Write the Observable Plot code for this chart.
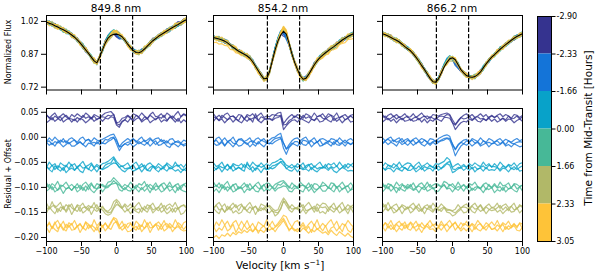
<!DOCTYPE html>
<html><head><meta charset="utf-8">
<script src="https://cdn.jsdelivr.net/npm/d3@7"></script>
<script src="https://cdn.jsdelivr.net/npm/@observablehq/plot@0.6"></script>
<style>
body{margin:0;background:#fff;}
#fig{position:relative;width:598px;height:275px;font-family:"DejaVu Sans",sans-serif;color:#000;overflow:hidden;background:#fff;}
.lbl{position:absolute;white-space:nowrap;line-height:1;}
.lbl sup{font-size:0.7em;line-height:0;vertical-align:0.5em;}
</style></head><body><div id="fig"></div>
<script>
// ---------------- DATA ----------------
const panelTitles = ["849.8 nm", "854.2 nm", "866.2 nm"];
const velocity = [-100,-96,-92,-88,-84,-80,-76,-72,-68,-64,-60,-56,-52,-48,-44,-40,-36,-32,-28,-24,-20,-16,-12,-8,-4,0,4,8,12,16,20,24,28,32,36,40,44,48,52,56,60,64,68,72,76,80,84,88,92,96,100];
const velTicks = [-100, -50, 0, 50, 100];
const fluxTicks = [0.72, 0.87, 1.02];
const residTicks = [0.05, 0.00, -0.05, -0.10, -0.15, -0.20];
const dashedVel = [-23, 23];
const groupOffsets = [0.038, -0.010, -0.060, -0.100, -0.142, -0.178];
const groupColors = ["#35338f", "#1474d8", "#08a2c9", "#47b897", "#b1b868", "#fec338"];
const cbTickLabels = ["-2.90", "-2.33", "-1.66", "0.00", "1.66", "2.33", "3.05"];
const residUnit = 0.0015;          // residual values below are in units of 0.0015
const lineShift = [3, -3, 0];      // spread of the 3 spectra within a group (same units)

// mean (black) normalized flux profiles
const flux8498 = [1.016,1.012,1.007,1.000,0.994,0.988,0.982,0.975,0.967,0.958, 0.948,0.936,0.922,0.906,0.890,0.874,0.857,0.840,0.831,0.858, 0.890,0.922,0.944,0.956,0.961,0.962,0.958,0.950,0.935,0.916, 0.900,0.887,0.878,0.877,0.883,0.894,0.907,0.920,0.932,0.942, 0.952,0.960,0.968,0.976,0.984,0.992,0.999,1.006,1.014,1.022, 1.028];
const flux8542 = [0.946,0.943,0.940,0.935,0.930,0.922,0.912,0.902,0.893,0.884, 0.877,0.870,0.862,0.852,0.836,0.815,0.795,0.775,0.758,0.760, 0.790,0.840,0.890,0.930,0.958,0.975,0.962,0.920,0.872,0.832, 0.800,0.772,0.756,0.760,0.778,0.800,0.822,0.840,0.855,0.866, 0.877,0.887,0.896,0.905,0.915,0.925,0.935,0.943,0.951,0.958, 0.964];
const flux8662 = [0.964,0.959,0.953,0.947,0.940,0.934,0.926,0.916,0.905,0.895, 0.886,0.872,0.856,0.838,0.818,0.800,0.780,0.760,0.745,0.743, 0.758,0.785,0.812,0.833,0.849,0.854,0.845,0.822,0.800,0.785, 0.773,0.767,0.765,0.768,0.777,0.790,0.808,0.826,0.842,0.857, 0.868,0.881,0.893,0.904,0.914,0.924,0.934,0.943,0.951,0.958, 0.964];

// residuals relative to each group's offset; per group: 3 spectra
const resid8498 = [
 [[2,-3,1,4,-2,0,3,-1,-4,2, -1,3,0,-2,4,1,-3,2,0,-2, 1,4,5,6,2,-9,-8,-3,-2,1, -2,3,1,-1,4,0,-3,2,5,-1, 0,3,-2,4,1,-3,2,6,-1,3, 1],
  [-3,0,4,-1,2,5,-2,1,3,-2, 2,-2,3,1,-3,0,4,-1,2,3, -1,3,2,5,4,-6,-9,-2,1,-2, 3,-1,2,4,-2,1,3,-3,0,2, 4,-2,1,-1,5,2,-2,3,-3,1, -2],
  [4,1,-2,3,0,-3,1,4,0,-1, -3,1,-2,4,0,2,-1,3,-2,1, 2,1,4,3,5,-7,-9,-4,-2,3, 0,-2,4,1,-3,2,-1,4,1,-2, 2,0,4,-3,1,3,-1,-4,2,5, 3]],
 [[-2,3,-1,4,0,-3,2,-4,1,3, 0,-3,2,4,-1,1,-2,3,0,-1, 1,3,5,7,8,1,-9,-4,-1,2, -1,2,-3,1,4,-2,0,3,-1,2, 3,-2,0,-4,1,2,-3,-1,-4,0, -2],
  [3,-1,2,-2,4,1,-3,0,3,-2, -2,1,4,0,-3,2,1,-2,4,0, 2,1,4,6,9,5,-3,-2,1,-1, 2,-3,0,4,1,-1,3,-2,2,5, -1,0,3,-2,-4,2,0,-3,1,-2, 0],
  [0,2,-3,1,-1,3,0,2,-2,1, 3,-2,0,-3,2,4,-1,0,-2,2, -1,4,3,6,7,-2,-11,-5,-2,0, 1,4,2,-2,0,3,-2,4,1,-3, 0,4,-1,2,-2,-3,1,0,-2,-3, -1]],
 [[-3,4,-1,2,-5,3,0,-2,4,-1, 2,-4,1,5,-2,0,3,-3,1,-2, 2,3,5,8,11,5,1,-2,0,3, -3,1,4,-2,2,-4,1,3,-1,-3, 2,-1,-4,3,0,-3,4,-2,1,-3, 2],
  [4,0,-3,5,1,-2,3,-4,0,2, -1,3,-2,-4,4,1,-2,2,-3,3, 0,2,4,7,9,8,3,-1,-3,1, 2,-2,0,3,-3,2,-1,-2,4,0, -3,2,1,-2,3,1,-2,0,-4,1, -2],
  [1,-2,3,-3,2,0,-4,3,-2,4, -4,1,3,-1,0,-3,4,-1,2,-2, -2,3,5,6,12,5,0,2,-2,-1, 0,3,-3,-1,1,3,-4,0,2,-2, 1,-3,2,4,-2,-1,2,3,-2,-4, 0]],
 [[3,-4,2,-1,5,-3,0,4,-2,1, -3,2,-5,1,4,-1,3,-4,2,0, 1,-2,4,5,10,6,2,-3,1,-2, 4,-1,-4,2,0,5,-3,1,-2,3, -4,1,3,-2,4,-3,0,2,-5,1, 3],
  [-2,1,4,-3,0,2,-5,1,3,-1, 4,-3,0,3,-2,5,-1,-4,1,3, -3,2,3,7,8,9,0,-2,3,-1, -2,4,1,-3,3,-2,2,-4,4,-1, 2,-3,-1,4,-2,1,-4,3,0,-2, -3],
  [0,4,-3,1,-4,3,2,-2,0,-4, 1,-1,3,-4,2,-3,4,0,-2,3, 2,0,2,4,9,5,3,-1,-3,2, -1,-4,3,0,-3,1,4,-1,-3,2, 1,4,-3,0,2,-1,3,-4,2,4, 0]],
 [[4,-3,6,-2,1,5,-4,2,-1,3, -5,2,0,4,-3,1,-2,5,-4,0, -2,-5,-7,-3,6,9,5,-2,3,-1, 3,-4,1,5,-2,-5,2,0,4,-3, -2,4,-5,1,3,-1,5,-3,0,2, -1],
  [-3,5,0,-4,3,-1,6,-2,4,-5, 2,-1,5,-3,0,4,-5,2,-1,3, 1,-4,-6,-4,3,8,7,3,-2,2, -4,2,-1,-3,4,1,-2,5,-3,1, 5,-2,1,-4,-1,3,-2,4,-5,-3, 2],
  [1,-1,3,4,-5,2,0,-3,5,1, -2,4,-4,1,2,-3,3,0,5,-4, 3,-3,-6,-5,2,10,3,0,4,-3, 1,3,-2,0,-5,3,-1,4,-2,0, -3,1,4,-2,2,-5,1,-1,3,4, 0]],
 [[-4,3,-6,1,5,-2,4,-5,2,-1, 5,-3,1,-6,3,0,-4,6,-2,2, -3,1,-4,3,9,7,-2,4,-5,1, 2,-5,4,0,-3,6,-1,3,-4,0, 3,-2,5,-4,1,-3,6,-1,-5,2, 4],
  [2,-5,3,-1,-4,6,0,-3,5,-2, -1,4,-5,2,-2,5,1,-4,3,-6, 4,-3,2,-1,7,10,3,-2,2,-4, -3,1,-2,5,-4,1,4,-5,2,6, -2,5,-3,0,4,-4,1,3,-1,-3, -2],
  [0,4,-2,6,-3,1,-5,3,-1,4, -4,0,3,-2,6,-3,2,-1,-5,3, -1,5,-2,4,11,5,-3,0,3,-2, 4,-2,0,-4,2,-3,5,-2,-1,3, 1,-4,2,4,-2,0,-3,5,2,-4, 1]]
];
const resid8542 = [
 [[3,-2,1,-3,2,4,-1,0,-3,2, 1,-4,2,0,3,-2,1,4,-2,0, -1,2,1,4,5,-10,-5,-1,2,-2, 2,0,-3,3,1,-2,4,-1,0,3, -2,3,1,-1,4,-3,0,2,-2,1, 2],
  [-1,4,0,2,-3,1,3,-2,2,-1, -3,2,-1,3,-2,9,0,-3,1,3, 2,0,3,4,6,-12,-7,-3,0,1, -2,3,1,-1,-3,2,0,3,-2,-1, 3,0,-2,4,-1,2,-3,1,3,-2, -1],
  [2,0,-3,4,1,-2,2,3,-1,-3, 4,-1,3,-2,0,1,-3,2,0,-2, 0,-2,4,3,4,-9,-8,-3,-1,3, 1,-2,4,0,2,-1,-3,2,4,0, -1,2,4,-3,0,1,3,-2,0,3, 0]],
 [[-3,2,4,-1,3,-2,0,4,-3,1, 2,-2,0,3,-4,1,3,-1,2,-3, 0,3,4,7,9,-4,-12,-6,-1,2, 3,-1,2,4,-2,0,3,-3,1,2, 0,-3,2,1,-2,3,-1,-4,0,2, -1],
  [2,-1,0,3,-2,4,1,-3,2,-2, -1,3,2,-3,1,-2,4,0,-3,2, 2,1,4,6,8,2,-6,-3,2,0, -2,4,0,-1,3,-3,1,4,-2,-1, 3,1,-2,4,0,-1,2,-2,3,0, 2],
  [0,3,-2,2,-4,0,3,-1,-2,4, 3,0,-3,1,2,-1,-2,3,1,-1, -2,2,5,6,7,-8,-16,-7,-3,1, 1,-3,3,2,-1,2,-2,0,3,-3, -2,2,0,-3,3,-2,0,3,-1,-3, 1]],
 [[3,-2,0,4,-3,1,-4,2,0,-1, 2,-3,1,-2,4,0,-2,3,-1,2, -1,3,4,6,9,5,0,-2,1,-3, 2,-1,3,-4,0,2,-3,1,4,-2, -3,2,0,3,-2,4,-1,-3,2,0, 3],
  [-2,1,3,-3,2,-1,4,-2,1,3, 0,-2,10,3,-3,2,1,-4,2,0, 3,1,3,7,10,6,2,-1,-2,2, -3,2,0,1,-2,3,-1,-3,1,3, 2,-1,3,-2,-4,0,3,1,-2,-1, -2],
  [1,-3,2,0,-1,4,-2,3,-3,0, -2,4,0,-3,1,-4,3,0,2,-3, -2,2,3,5,8,7,-2,1,-1,2, 0,3,-2,2,4,-3,2,-2,0,-1, 4,-2,1,-1,2,-3,0,4,-1,3, 0]],
 [[4,-2,3,-4,1,5,-3,0,2,-5, -1,3,-3,2,-4,1,4,-2,0,3, 2,-3,1,3,5,6,2,-4,3,-1, -3,4,0,-2,3,-4,2,1,-3,4, 1,-4,3,2,-3,0,4,-2,-1,3, -2],
  [-3,1,-4,2,4,-2,3,-3,-1,2, 3,-4,1,-1,3,-2,-3,4,-2,1, -1,3,-2,2,3,5,4,-2,-3,2, 2,-1,-3,4,-2,2,-4,0,3,-2, -2,3,0,-3,4,-3,1,3,-4,0, 1],
  [0,3,-1,4,-3,1,-2,4,-4,1, -2,1,4,-3,0,3,-1,-2,4,-3, 3,0,-2,4,3,7,3,1,-2,3, -1,2,3,-1,0,4,-2,-3,1,2, 3,0,-2,4,-1,2,-3,0,2,-4, 3]],
 [[-4,2,5,-1,3,-5,0,4,-2,1, 3,-4,1,5,-2,0,-5,3,1,-3, 1,-3,-6,-5,4,11,6,-3,2,-2, -2,4,-3,1,5,-1,-4,3,0,4, 3,-2,0,4,-4,1,5,-3,2,-1, 2],
  [3,-1,-4,4,-2,2,5,-3,0,-4, -2,5,-1,-3,4,-5,2,0,4,-1, -3,1,-7,-4,2,13,7,1,-2,3, 3,-3,2,-4,1,4,-2,5,-3,-1, -4,3,1,-2,3,-3,0,2,-4,4, -3],
  [1,4,-2,0,-5,3,-2,1,5,-3, 4,0,-3,2,-1,3,-4,1,-2,5, 2,-4,-5,-6,0,10,8,3,-1,0, -1,2,5,-3,-2,0,3,-4,2,1, 2,-4,3,-1,0,4,-3,1,-2,3, 0]],
 [[-5,3,-2,6,-1,4,-4,2,5,-3, 4,-2,5,-4,1,-6,3,0,-3,6, -2,4,-3,1,6,12,10,2,-4,3, 5,-3,2,-5,0,4,-2,6,-4,1, -3,2,6,-2,4,-5,1,-2,5,0, -4],
  [3,-4,1,-2,5,-3,0,6,-5,2, -3,5,-1,3,-4,2,-6,1,4,-2, 5,-1,2,5,9,14,7,-3,2,-1, -4,1,5,-2,3,-5,6,-1,2,-3, 4,-5,1,3,-3,2,-4,6,-2,-5, 3],
  [-15,-12,-16,-11,-13,-9,-13,-8,-11,-7, -9,-5,-8,-4,-7,-3,-6,-5,-8,-3, -5,-2,-7,-1,3,8,1,-4,-2,-6, -3,-7,-2,-5,-9,-4,-7,-3,-6,-9, -7,-11,-5,-9,-12,-7,-10,-13,-9,-13, -15]]
];
const resid8662 = [
 [[2,-3,1,3,-1,2,-2,0,3,-2, -1,3,-2,1,4,-1,0,-3,2,1, 0,2,3,4,2,-5,-11,-6,-2,1, 3,-1,2,-2,0,3,-1,2,-3,1, -2,1,3,-1,2,0,-3,2,1,-2, 1],
  [-2,1,3,-1,2,-3,1,3,-1,0, 2,-1,0,3,-2,2,-3,1,-1,3, 1,-1,4,4,3,-3,-12,-7,-3,-1, -2,2,0,3,-1,-2,2,0,3,-1, 2,-2,0,3,-1,2,1,-3,0,2, -1],
  [1,3,-2,0,3,-1,2,-2,1,3, -3,0,2,-2,1,3,-1,2,0,-2, 2,3,2,5,4,-6,-9,-4,1,-1, 0,3,-2,1,2,-1,0,-3,2,3, 1,3,-2,0,-2,3,-1,0,3,-1, 2]],
 [[3,-1,2,4,-2,1,3,-3,0,2, -2,1,3,-1,2,0,-3,2,1,-2, 2,4,6,7,5,-6,-12,-6,-3,0, 1,-3,2,0,-2,3,-1,-3,2,0, -3,0,2,-2,1,-1,-3,0,2,-1, 1],
  [1,4,0,3,1,-2,4,0,2,-1, 3,-1,2,4,0,-2,2,-1,3,0, 3,5,6,8,6,-3,-15,-8,-2,1, -1,2,-2,1,3,-2,0,2,-3,1, 2,-1,0,3,-2,0,-3,1,-1,-3, -2],
  [-1,2,4,1,3,0,2,5,-1,3, 0,3,-2,2,-1,3,0,-2,1,2, 1,3,5,6,5,-2,-10,-4,0,-2, 2,0,3,-1,1,-3,2,-1,0,-2, 0,2,-2,1,-3,2,-1,-2,0,1, 0]],
 [[-2,3,0,-3,2,-1,4,-2,1,3, 2,-3,1,4,-2,0,3,-1,-3,2, 1,3,5,10,7,-3,0,2,-2,1, -3,2,-1,3,0,-2,4,-1,2,-3, 2,-2,4,0,-3,1,-1,3,-2,2, 3],
  [3,-1,2,1,-3,2,0,-2,3,-1, -1,2,-3,0,3,-2,1,2,-2,4, -1,2,4,8,6,-4,-2,1,3,-1, 2,-1,3,-3,1,2,-2,3,-1,0, -1,3,-2,2,1,-3,2,0,3,-2, -1],
  [0,-3,3,2,-1,3,-2,1,-1,-3, 3,0,-2,2,-3,1,-1,3,0,-2, 2,-2,3,6,8,-2,-3,0,-1,2, 0,3,-2,1,-3,0,2,-2,3,1, 1,0,-3,2,-1,3,-2,1,-3,0, 2]],
 [[3,-4,2,0,-3,4,-1,2,-4,1, -2,3,-4,1,3,-2,4,-3,0,2, 1,-2,5,3,-1,2,-3,4,-2,1, -3,2,0,4,-2,-4,1,3,-1,-3, 2,-3,4,-1,0,3,-4,2,1,-2, 0],
  [-3,1,4,-2,2,-4,3,0,-2,4, 2,-1,1,-4,2,4,-2,0,3,-3, -2,3,6,1,2,-3,2,-1,3,-2, 4,-3,2,-1,3,1,-4,2,0,3, -4,0,-2,3,-3,1,2,-1,-3,4, -2],
  [1,3,-2,4,-1,0,-4,3,2,-2, 4,-3,0,2,-1,-3,1,4,-2,0, 3,0,4,-2,4,1,-2,1,0,3, -1,3,-4,0,1,-2,3,-3,4,-1, 3,-1,1,-4,2,-2,0,4,-2,1, 3]],
 [[4,-2,5,-3,1,3,-4,2,0,-3, 1,4,-2,3,-5,0,2,-3,4,-1, -2,3,-1,-4,-5,-6,-4,2,-3,1, 3,-3,1,4,-2,2,-4,0,3,-2, -1,4,-3,1,3,-2,0,4,-4,2, -2],
  [-2,3,0,4,-3,-1,3,-4,2,5, -3,0,4,-1,2,-4,3,1,-2,3, 2,-1,4,-2,-3,-7,-5,-1,2,-3, -2,4,-1,-3,3,-1,2,-4,1,4, 3,-2,1,-4,0,3,-2,-1,4,-3, 1],
  [1,5,-3,2,0,-4,1,3,-2,0, 2,-2,3,0,-4,2,-1,4,-3,1, -3,0,2,-3,-2,-4,-6,-2,1,2, 1,-2,3,-1,0,4,-3,2,-1,-3, -2,1,4,-2,2,-3,3,-2,0,3, 4]],
 [[-4,2,-1,5,-3,1,4,-2,3,-5, 3,-1,4,-4,2,-3,0,5,-2,1, -3,4,-2,1,5,-1,3,-4,2,-2, 4,-3,1,-2,5,0,-4,2,-1,3, -2,5,-3,2,-1,4,-3,1,-5,2, 0],
  [3,-3,4,-1,2,-4,1,-2,5,0, -2,4,-3,1,-5,2,3,-1,0,-4, 2,-2,3,-4,1,6,-2,3,-3,1, -3,2,-4,3,-1,-3,2,-2,4,-1, 1,-3,2,-4,3,-1,2,4,-2,-3, 2],
  [0,5,-2,2,-4,3,-1,4,-3,2, 5,-2,0,3,-1,-3,4,-2,3,-3, -1,3,0,3,-2,2,5,-1,-3,4, 2,-1,3,-4,2,4,-3,0,2,-4, -3,2,-1,3,-4,1,-2,3,0,4, -3]]
];

// ---------------- DRAW ----------------
const fig = document.getElementById("fig");
const meanFlux = [flux8498, flux8542, flux8662];
const resid = [resid8498, resid8542, resid8662];
const colLeft = [46, 213, 382];
const colW = 140;
const topBox = {y: 15, h: 74.5, domain: [0.707, 1.047]};
const botBox = {y: 107.5, h: 133, domain: [-0.208, 0.0575]};
const svgStyle = {fontFamily: "DejaVu Sans, sans-serif", fontSize: "8px", overflow: "visible", background: "transparent", color: "black"};

function place(el, left, top) {
  el.style.position = "absolute";
  el.style.left = left + "px";
  el.style.top = top + "px";
  fig.appendChild(el);
}

function panel(c, isTop) {
  const box = isTop ? topBox : botBox;
  const mL = 36, mR = 4, mT = 4, mB = isTop ? 8 : 18;
  const marks = [];
  resid[c].forEach((lines, g) => {
    const rows = [];
    lines.forEach((vals, l) => vals.forEach((r, i) => {
      const base = isTop ? meanFlux[c][i] : groupOffsets[g];
      rows.push({v: velocity[i], y: base + (r + lineShift[l]) * residUnit, id: g + "-" + l});
    }));
    marks.push(Plot.line(rows, {x: "v", y: "y", z: "id", stroke: groupColors[g], clip: true,
      strokeWidth: 1.2, strokeOpacity: 0.8}));
  });
  if (isTop) {
    marks.push(Plot.line(velocity.map((v, i) => ({v, y: meanFlux[c][i]})),
      {x: "v", y: "y", stroke: "black", strokeWidth: 1.1}));
  }
  marks.push(Plot.ruleX(dashedVel, {stroke: "black", strokeWidth: 1.2, strokeDasharray: "4.4,1.9"}));
  marks.push(Plot.frame({stroke: "black", strokeWidth: 1}));
  marks.push(Plot.axisX({ticks: velTicks, tickSize: 5, tickPadding: 2, label: null,
    tickFormat: isTop ? () => "" : d3.format("d")}));
  marks.push(Plot.axisY({ticks: isTop ? fluxTicks : residTicks, tickSize: 5, tickPadding: 3, label: null,
    tickFormat: c === 0 ? d3.format(".2f") : () => ""}));
  const svg = Plot.plot({
    width: colW + mL + mR, height: box.h + mT + mB,
    marginLeft: mL, marginRight: mR, marginTop: mT, marginBottom: mB,
    x: {domain: [-100, 100]}, y: {domain: box.domain},
    style: svgStyle, marks
  });
  place(svg, colLeft[c] - mL, box.y - mT);
}

for (let c = 0; c < 3; c++) { panel(c, true); panel(c, false); }

// colorbar
{
  const mL = 2, mR = 40, mT = 4, mB = 4, w = 14, h = 225;
  const marks = groupColors.map((col, i) => Plot.rect([i], {x1: () => 0, x2: () => 1, y1: d => d, y2: d => d + 1, fill: col}));
  marks.push(Plot.frame({stroke: "black", strokeWidth: 1}));
  marks.push(Plot.axisY({anchor: "right", ticks: [0, 1, 2, 3, 4, 5, 6], tickSize: 3.5, tickPadding: 1.5, label: null,
    tickFormat: i => cbTickLabels[i]}));
  const svg = Plot.plot({
    width: w + mL + mR, height: h + mT + mB,
    marginLeft: mL, marginRight: mR, marginTop: mT, marginBottom: mB,
    x: {domain: [0, 1], axis: null}, y: {domain: [0, 6], reverse: true},
    style: svgStyle, marks
  });
  place(svg, 536.5 - mL, 15.5 - mT);
}

// text labels
function label(html, x, y, size, rotate) {
  const d = document.createElement("div");
  d.className = "lbl";
  d.innerHTML = html;
  d.style.left = x + "px";
  d.style.top = y + "px";
  d.style.fontSize = size + "px";
  d.style.transform = "translate(-50%,-50%)" + (rotate ? " rotate(-90deg)" : "");
  fig.appendChild(d);
}
panelTitles.forEach((t, c) => label(t, colLeft[c] + colW / 2, 8, 10.5, false));
label("Normalized Flux", 9, 52, 8, true);
label("Residual + Offset", 9, 174, 8, true);
label("Velocity [km s<sup>\u22121</sup>]", 280, 264.5, 10.5, false);
label("Time from Mid-Transit [Hours]", 588, 128, 10.5, true);
</script>
</body></html>
